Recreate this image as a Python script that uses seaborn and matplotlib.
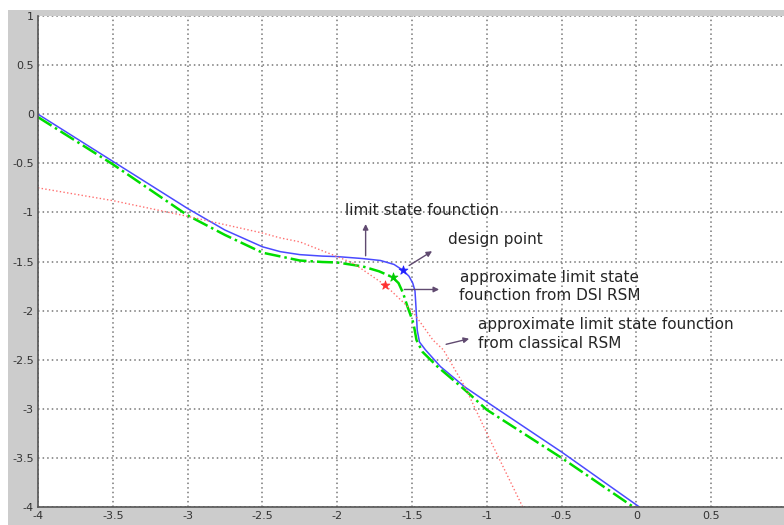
import numpy as np
import pandas as pd
import matplotlib
matplotlib.use('Agg')
import matplotlib.pyplot as plt
import seaborn as sns
from matplotlib.patches import Rectangle

# limit state function (blue)
blue_x = [-4.0, -3.5, -3.0, -2.75, -2.5, -2.38, -2.25, -2.1, -2.0, -1.83, -1.71, -1.62,
          -1.56, -1.52, -1.495, -1.48, -1.472, -1.465, -1.45, -1.41, -1.31, -1.145,
          -1.0, -0.5, 0.02]
blue_y = [0.0, -0.48, -0.96, -1.18, -1.35, -1.40, -1.43, -1.445, -1.45, -1.47, -1.49, -1.53,
          -1.59, -1.65, -1.72, -1.80, -2.0, -2.2, -2.32, -2.40, -2.57, -2.78,
          -2.93, -3.44, -4.0]

# approximate limit state function from DSI RSM (green)
green_x = [-4.0, -3.5, -3.0, -2.75, -2.5, -2.25, -2.1, -2.0, -1.83, -1.72, -1.63, -1.59,
           -1.56, -1.53, -1.49, -1.47, -1.43, -1.33, -1.145, -1.0, -0.5, -0.02]
green_y = [-0.03, -0.51, -1.03, -1.23, -1.41, -1.49, -1.505, -1.51, -1.55, -1.60, -1.66, -1.72,
           -1.82, -1.96, -2.13, -2.30, -2.42, -2.57, -2.81, -3.01, -3.5, -4.0]

# approximate limit state function from classical RSM (red)
red_x = [-4.0, -3.5, -3.0, -2.5, -2.38, -2.25, -2.0, -1.89, -1.68, -1.5, -1.36, -1.29,
         -1.145, -0.99, -0.76]
red_y = [-0.75, -0.88, -1.04, -1.21, -1.26, -1.30, -1.45, -1.52, -1.74, -2.0, -2.30, -2.40,
         -2.78, -3.28, -4.0]

# design points
pts_x = [-1.56, -1.63, -1.68]
pts_y = [-1.59, -1.66, -1.74]
pts_c = ['#2020ff', '#00cc00', '#ff3030']

xticks = [-4, -3.5, -3, -2.5, -2, -1.5, -1, -0.5, 0, 0.5, 1]
xlabels = ['-4', '-3.5', '-3', '-2.5', '-2', '-1.5', '-1', '-0.5', '0', '0.5', '']
yticks = [1, 0.5, 0, -0.5, -1, -1.5, -2, -2.5, -3, -3.5, -4]

sns.set_style('white')
plt.rcParams['font.family'] = ['DejaVu Sans']

fig = plt.figure(figsize=(7.84, 5.25), dpi=100, facecolor='#cccccc')
fig.patches.append(Rectangle((0, 515 / 525), 1, 10 / 525, transform=fig.transFigure,
                             facecolor='white', edgecolor='none', zorder=-1))
fig.patches.append(Rectangle((0, 0), 8 / 784, 1, transform=fig.transFigure,
                             facecolor='white', edgecolor='none', zorder=-1))
ax = fig.add_axes([38 / 784, 18 / 525, 748 / 784, 491 / 525])
ax.set_facecolor('white')

sns.lineplot(x=blue_x, y=blue_y, sort=False, estimator=None, color='#4a4aff', lw=1.1, ax=ax)
sns.lineplot(x=green_x, y=green_y, sort=False, estimator=None, color='#00dd00', lw=1.8,
             linestyle='-.', ax=ax)
sns.lineplot(x=red_x, y=red_y, sort=False, estimator=None, color='#ff7070', lw=1.0,
             linestyle=':', ax=ax)
for px, py, c in zip(pts_x, pts_y, pts_c):
    sns.scatterplot(x=[px], y=[py], marker='*', s=45, color=c, edgecolor=c, ax=ax, zorder=5)

ax.set_xlim(-4, 1)
ax.set_ylim(-4, 1)
ax.set_xticks(xticks)
ax.set_yticks(yticks)
ax.set_xticklabels(xlabels)
ax.set_yticklabels([f'{t:g}' for t in yticks])
ax.tick_params(direction='in', length=4, width=1, colors='#555555', labelsize=8,
               labelcolor='#333333', pad=3)
ax.grid(True, color='#777777', linestyle=(0, (1, 2)), lw=1.1)
for s in ['top', 'right']:
    ax.spines[s].set_visible(False)
for s in ['left', 'bottom']:
    ax.spines[s].set_color('#555555')
    ax.spines[s].set_linewidth(1.2)

arrow = dict(arrowstyle='-|>', color='#604a70', lw=1.0, mutation_scale=8)
fs = 11
ax.annotate('', xy=(-1.81, -1.09), xytext=(-1.81, -1.47), arrowprops=arrow)
ax.text(-1.95, -0.985, 'limit state founction', fontsize=fs, va='center', ha='left')

ax.annotate('', xy=(-1.35, -1.38), xytext=(-1.535, -1.556), arrowprops=arrow)
ax.text(-1.26, -1.28, 'design point', fontsize=fs, va='center', ha='left')

ax.annotate('', xy=(-1.30, -1.785), xytext=(-1.57, -1.785), arrowprops=arrow)
ax.text(-0.58, -1.755, 'approximate limit state\nfounction from DSI RSM', fontsize=fs,
        va='center', ha='center', multialignment='center', linespacing=1.3)

ax.annotate('', xy=(-1.10, -2.28), xytext=(-1.29, -2.35), arrowprops=arrow)
ax.text(-1.06, -2.238, 'approximate limit state founction\nfrom classical RSM', fontsize=fs,
        va='center', ha='left', linespacing=1.3)

fig.savefig('out.png', dpi=100, facecolor=fig.get_facecolor())
